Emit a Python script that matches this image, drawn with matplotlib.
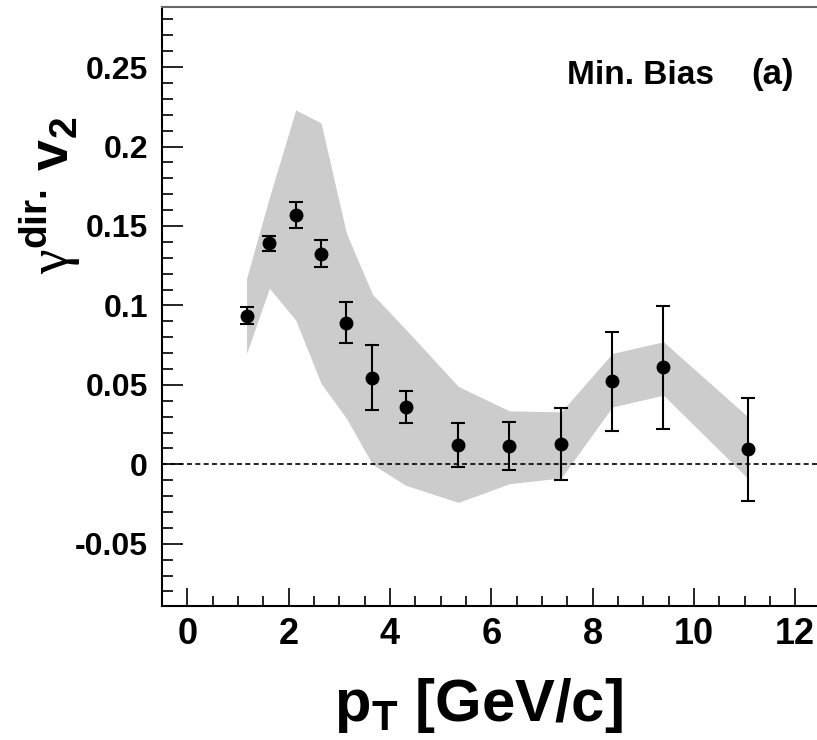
import matplotlib
matplotlib.use("Agg")
import matplotlib.pyplot as plt
from matplotlib.ticker import MultipleLocator, FixedLocator

# direct-photon v2 vs pT, minimum bias
pt = [1.17, 1.62, 2.14, 2.64, 3.14, 3.655, 4.31, 5.35, 6.36, 7.38, 8.39, 9.40, 11.07]
v2 = [0.0935, 0.139, 0.1568, 0.1326, 0.0891, 0.0544, 0.0359, 0.0122, 0.0113, 0.0126, 0.0523, 0.0610, 0.0095]
v2_stat = [0.0053, 0.0048, 0.0081, 0.0086, 0.013, 0.0205, 0.0101, 0.0136, 0.0152, 0.0228, 0.0312, 0.0388, 0.0325]

# systematic band edges at the same pT
sys_hi = [0.117, 0.168, 0.223, 0.2148, 0.1455, 0.107, 0.085, 0.049, 0.0336, 0.033, 0.0698, 0.0771, 0.0298]
sys_lo = [0.0698, 0.1108, 0.0908, 0.0509, 0.029, 0.0, -0.0132, -0.024, -0.0122, -0.0086, 0.0361, 0.0435, -0.009]

y_major = [-0.05, 0, 0.05, 0.1, 0.15, 0.2, 0.25]
y_labels = ["-0.05", "0", "0.05", "0.1", "0.15", "0.2", "0.25"]
x_major = [0, 2, 4, 6, 8, 10, 12]

FONT = "Liberation Sans"
plt.rcParams["mathtext.fontset"] = "custom"
plt.rcParams["mathtext.bf"] = FONT + ":bold"
plt.rcParams["mathtext.rm"] = "Liberation Serif"

W, H = 817, 740
fig = plt.figure(figsize=(W / 100, H / 100), dpi=100)
# axes box in pixels: left 162, right 820.5, top 6.7, bottom 605.7
ax = fig.add_axes([162 / W, (H - 605.7) / H, (820.5 - 162) / W, (605.7 - 6.7) / H])

ax.fill_between(pt, sys_lo, sys_hi, color="#cccccc", lw=0, zorder=1)
ax.axhline(0, color="black", lw=1.2, ls=(0, (3, 2)), zorder=2)
ax.errorbar(pt, v2, yerr=v2_stat, fmt="o", color="black", ms=9, lw=1.5,
            capsize=5, capthick=1.5, zorder=3)

ax.set_xlim(-0.5, 12.5)
ax.set_ylim(-0.089, 0.288)

ax.xaxis.set_major_locator(FixedLocator(x_major))
ax.xaxis.set_minor_locator(MultipleLocator(0.5))
ax.yaxis.set_major_locator(FixedLocator(y_major))
ax.yaxis.set_minor_locator(MultipleLocator(0.01))
ax.set_yticklabels(y_labels)
ax.set_xticklabels([str(v) for v in x_major])

ax.tick_params(axis="both", which="both", direction="in", top=False, right=False, color="black")
ax.tick_params(axis="y", which="major", length=15, width=1.2, pad=10)
ax.tick_params(axis="y", which="minor", length=7.7, width=1.2)
ax.tick_params(axis="x", which="major", length=13, width=1.2, pad=8)
ax.tick_params(axis="x", which="minor", length=7.2, width=1.2)

for lab in ax.get_yticklabels():
    lab.set_fontfamily(FONT)
    lab.set_fontweight("bold")
    lab.set_fontsize(23)
for lab in ax.get_xticklabels():
    lab.set_fontfamily(FONT)
    lab.set_fontweight("bold")
    lab.set_fontsize(26)

for s in ["left", "bottom"]:
    ax.spines[s].set_linewidth(1.5)
ax.spines["top"].set_color("#666666")
ax.spines["top"].set_linewidth(1.5)

fig.text(714 / W, (H - 84) / H, "Min. Bias", ha="right", va="baseline",
         fontfamily=FONT, fontweight="bold", fontsize=24)
fig.text(794 / W, (H - 84) / H, "(a)", ha="right", va="baseline",
         fontfamily=FONT, fontweight="bold", fontsize=25)

fig.text(478 / W, (H - 721) / H, r"$\mathbf{p}_{\mathbf{T}}$ [GeV/c]", ha="center", va="baseline",
         fontfamily=FONT, fontweight="bold", fontsize=43)
fig.text(50 / W, (H - 195) / H, r"$\mathrm{\gamma}^{\mathbf{dir.}}\,\mathbf{v}_{\mathbf{2}}$",
         rotation=90, ha="center", va="center", fontsize=40)

fig.savefig("out.png", dpi=100)
